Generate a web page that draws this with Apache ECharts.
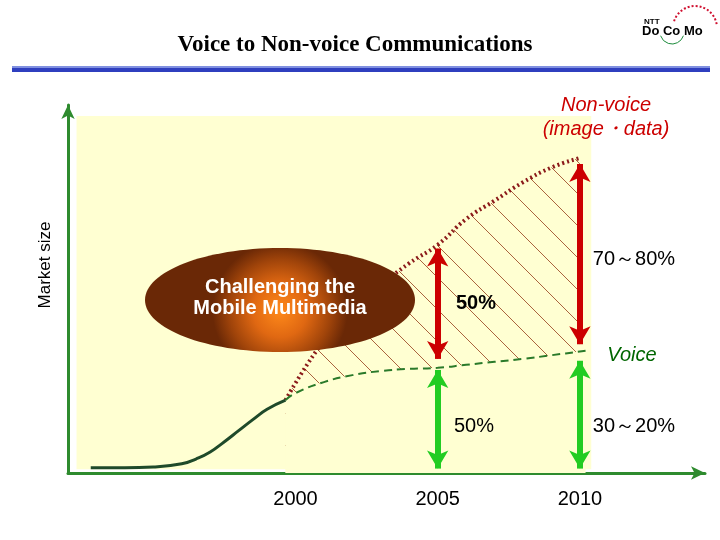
<!DOCTYPE html>
<html><head><meta charset="utf-8">
<script src="https://cdn.jsdelivr.net/npm/echarts@6/dist/echarts.min.js"></script>
<style>html,body{margin:0;background:#fff}#c{width:720px;height:540px}</style>
</head><body><div id="c"></div>
<script>
// data (market size, arbitrary units 0-100)
const growthYears = [1992.8,1994,1995,1996,1996.5,1997,1997.5,1998,1998.5,1999,1999.65];
const growthVals  = [1.4,1.4,1.6,2.5,3.8,5.7,8.5,11.5,14.5,17.3,19.8];
const totalYears  = [1999.65,2001,2002,2003,2004,2005,2006,2007,2008,2009,2010];
const totalVals   = [19.8,36,44,51,57,62,69,74,79,83,85.6];
const voiceYears  = [1999.65,2000,2001,2002,2003,2004,2005,2006,2007,2008,2009,2010,2010.2];
const voiceVals   = [19.8,21.7,24.7,26.6,27.7,28.3,28.6,29.4,30.2,31,32,33,33.2];
const yearLabels  = [2000,2005,2010];

const S = 32;
const pc = document.createElement('canvas'); pc.width = S; pc.height = S;
const g = pc.getContext('2d'); g.fillStyle = '#ffffd2'; g.fillRect(0,0,S,S);
g.strokeStyle = '#a0522d'; g.lineWidth = 0.9;
g.beginPath(); g.moveTo(0,0); g.lineTo(S,S); g.stroke();

const chart = echarts.init(document.getElementById('c'));
const pair = (xs, ys) => xs.map((x,i)=>[x,ys[i]]);
const arrowLine = (x,y1,y2,color) => ({
  type:'line', data:[], z:5, markLine:{silent:true, symbol:['arrow','arrow'], symbolSize:[16,18],
    label:{show:false}, lineStyle:{color, width:6, type:'solid'},
    data:[[{coord:[x,y1]},{coord:[x,y2]}]]}
});
const T = (x,y,text,font,fill) => ({type:'text', x, y, z:20, style:{text, font, fill, align:'center', verticalAlign:'middle', lineHeight:24}});
chart.setOption({
  animation:false,
  grid:{left:68,right:15,top:105,bottom:67},
  xAxis:{type:'value', min:1992, max:2014.4, interval:1, splitLine:{show:false},
    axisLine:{lineStyle:{color:'#2e8b2e',width:3}, symbol:['none','arrow'], symbolSize:[10,14]},
    axisTick:{show:false},
    axisLabel:{fontSize:20, color:'#000', margin:16, fontFamily:'Arial, Liberation Sans',
      formatter:v=>yearLabels.includes(Math.round(v))&&Math.abs(v-Math.round(v))<1e-6?String(Math.round(v)):''}},
  yAxis:{type:'value', min:0, max:100, splitLine:{show:false}, axisLabel:{show:false}, axisTick:{show:false},
    axisLine:{show:true,lineStyle:{color:'#2e8b2e',width:3}, symbol:['none','arrow'], symbolSize:[10,14]}},
  series:[
    {type:'line', data:[], z:0, markArea:{silent:true, z:0, itemStyle:{color:'#ffffd2'}, data:[[{coord:[1992.3,1]},{coord:[2010.4,97]}]]}},
    {type:'line', z:2, data:pair(totalYears,totalVals), symbol:'none', smooth:true, lineStyle:{color:'#8b1a1a',width:4,type:[2,3]},
      areaStyle:{color:{image:pc, repeat:'repeat'}, opacity:1, origin:'start'}},
    {type:'line', z:3, data:pair(voiceYears,voiceVals), symbol:'none', smooth:true, lineStyle:{color:'#2a7a2a',width:2,type:[8,5]},
      areaStyle:{color:'#ffffd2', opacity:1, origin:'start'}},
    {type:'line', z:4, data:pair(growthYears,growthVals), symbol:'none', smooth:true, lineStyle:{color:'#1f4a2a',width:3}},
    arrowLine(2005,31,61,'#cc0000'),
    arrowLine(2005,1.2,28,'#22cc22'),
    arrowLine(2010,35,84,'#cc0000'),
    arrowLine(2010,1.2,30.5,'#22cc22')
  ],
  graphic:[
    {type:'text', x:355, y:45, z:20, style:{text:'Voice to Non-voice Communications', font:'bold 23px "Liberation Serif", serif', fill:'#000', align:'center', verticalAlign:'middle'}},
    {type:'rect', z:20, shape:{x:12,y:66,width:698,height:6}, style:{fill:'#2f3fbf'}},
    {type:'rect', z:20, shape:{x:12,y:66,width:698,height:2}, style:{fill:'#8090e0'}},
    {type:'text', z:20, x:644, y:18, style:{text:'NTT', font:'bold 8px Arial', fill:'#000'}},
    {type:'text', z:20, x:642, y:25, style:{text:'Do Co Mo', font:'bold 13px Arial', fill:'#000'}},
    {type:'arc', z:20, shape:{cx:695,cy:28,r:22,startAngle:Math.PI*1.1,endAngle:Math.PI*1.95}, style:{stroke:'#d01030',lineWidth:2,lineDash:[2,2],fill:null}},
    {type:'arc', z:20, shape:{cx:672,cy:32,r:12,startAngle:Math.PI*0.1,endAngle:Math.PI*0.9}, style:{stroke:'#1a8a3a',lineWidth:1,fill:null}},
    {type:'text', z:20, x:45, y:265, rotation:Math.PI/2, style:{text:'Market size', font:'17px Arial, "Liberation Sans"', fill:'#000', align:'center', verticalAlign:'middle'}},
    {type:'ellipse', z:20, shape:{cx:280,cy:300,rx:135,ry:52}, style:{fill:{type:'radial',x:0.5,y:0.6,r:0.65,colorStops:[{offset:0,color:'#ff8a1a'},{offset:0.4,color:'#e06812'},{offset:0.75,color:'#a0440a'},{offset:1,color:'#6a2806'}]}}},
    {type:'text', x:280, y:298, z:21, style:{text:'Challenging the\nMobile Multimedia', font:'bold 20px Arial, "Liberation Sans"', fill:'#fff', align:'center', verticalAlign:'middle', lineHeight:21}},
    T(606,117,'Non-voice\n(image・data)','italic 20px Arial, "Liberation Sans"','#cc0000'),
    T(634,259,'70～80%','20px Arial, "Liberation Sans"','#000'),
    T(476,303,'50%','bold 20px Arial, "Liberation Sans"','#000'),
    T(632,355,'Voice','italic 20px Arial, "Liberation Sans"','#006600'),
    T(474,426,'50%','20px Arial, "Liberation Sans"','#000'),
    T(634,426,'30～20%','20px Arial, "Liberation Sans"','#000')
  ]
});
</script></body></html>
